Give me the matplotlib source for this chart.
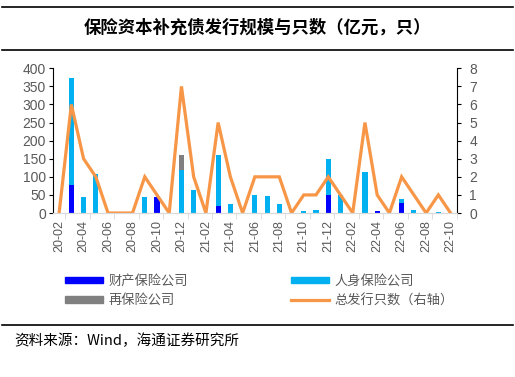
import matplotlib
matplotlib.use("Agg")
import matplotlib.pyplot as plt
import numpy as np
from matplotlib.lines import Line2D
from matplotlib.patches import Patch

CJK = ["Noto Sans CJK SC", "DejaVu Sans"]
NUM = ["Liberation Sans", "DejaVu Sans"]

months = [
    "20-02", "20-03", "20-04", "20-05", "20-06", "20-07", "20-08", "20-09",
    "20-10", "20-11", "20-12", "21-01", "21-02", "21-03", "21-04", "21-05",
    "21-06", "21-07", "21-08", "21-09", "21-10", "21-11", "21-12", "22-01",
    "22-02", "22-03", "22-04", "22-05", "22-06", "22-07", "22-08", "22-09",
    "22-10",
]
# 亿元
property_ins = [0, 78, 0, 0, 0, 0, 0, 0, 43, 0, 0, 0, 0, 19, 0, 0,
                0, 0, 0, 0, 0, 0, 49, 0, 0, 0, 5, 0, 29, 0, 0, 0, 0]
life_ins = [0, 294, 44, 109, 0, 0, 0, 43, 0, 0, 118, 63, 0, 140, 24, 0,
            49, 46, 24, 0, 5, 9, 99, 49, 0, 114, 0, 0, 11, 9, 0, 2, 0]
reins = [0, 0, 0, 0, 0, 0, 0, 0, 0, 0, 42, 0, 0, 0, 0, 0,
         0, 0, 0, 0, 0, 0, 0, 0, 0, 0, 0, 0, 0, 0, 0, 0, 0]
# 只
issue_count = [0, 6, 3, 2, 0, 0, 0, 2, 1, 0, 7, 2, 0, 5, 2, 0,
               2, 2, 2, 0, 1, 1, 2, 1, 0, 5, 1, 0, 2, 1, 0, 1, 0]

c_prop = "#0000ff"
c_life = "#00b0f0"
c_re = "#808080"
c_line = "#f79646"
c_tick = "#595959"

fig = plt.figure(figsize=(5.15, 3.77), dpi=100)
ax = fig.add_axes([0.1029, 0.435, 0.7839, 0.3838])
ax2 = ax.twinx()

x = np.arange(len(months))
w = 0.42
prop = np.array(property_ins)
life = np.array(life_ins)
ax.bar(x, prop, w, color=c_prop, zorder=2)
ax.bar(x, life, w, bottom=prop, color=c_life, zorder=2)
ax.bar(x, reins, w, bottom=prop + life, color=c_re, zorder=2)
ax2.plot(x, issue_count, color=c_line, lw=2.3, solid_joinstyle="miter")

ax.set_xlim(-0.5, len(months) - 0.5)
ax.set_ylim(0, 400)
ax.set_yticks(range(0, 401, 50))
ax2.set_ylim(0, 8)
ax2.set_yticks(range(0, 9))

ax.set_xticks(x[::2])
ax.set_xticklabels(months[::2], rotation=90, family=NUM, fontsize=9, color=c_tick)
ax.set_xticks(np.arange(0.5, len(months), 2), minor=True)
ax.tick_params(axis="x", which="major", length=0, pad=5)
ax.tick_params(axis="x", which="minor", length=4, color="#d9d9d9")

for a in (ax, ax2):
    a.spines["top"].set_visible(False)
    a.spines["bottom"].set_color("#d9d9d9")
    for lab in a.get_yticklabels():
        lab.set_family(NUM)
        lab.set_fontsize(10)
        lab.set_color(c_tick)
ax.spines["right"].set_visible(False)
ax2.spines["left"].set_visible(False)
ax.spines["left"].set_color("#000000")
ax2.spines["right"].set_color("#000000")
ax.tick_params(axis="y", length=3, pad=2)
ax2.tick_params(axis="y", length=3, pad=6)

handles = [
    Patch(color=c_prop), Patch(color=c_re),
    Patch(color=c_life), Line2D([], [], color=c_line, lw=2.3),
]
labels = ["财产保险公司", "再保险公司", "人身保险公司", "总发行只数（右轴）"]
leg = fig.legend(handles, labels, ncol=2, loc="upper left",
                 bbox_to_anchor=(0.103, 0.303), frameon=False,
                 prop={"family": CJK, "size": 9.5},
                 handlelength=2.9, handleheight=0.4, handletextpad=0.4,
                 columnspacing=7.8, labelspacing=0.5)
for t in leg.get_texts():
    t.set_color(c_tick)

for yy in (1 - 7 / 377, 1 - 50 / 377, 1 - 325 / 377):
    fig.add_artist(Line2D([0.004, 0.996], [yy, yy], color="black", lw=1.2,
                          transform=fig.transFigure))

fig.text(0.5, 1 - 28 / 377, "保险资本补充债发行规模与只数（亿元，只）",
         ha="center", va="center", family=CJK, fontsize=12.5, fontweight="bold")
fig.text(14 / 515, 1 - 341 / 377, "资料来源：Wind，海通证券研究所",
         ha="left", va="center", family=CJK, fontsize=10.5)

fig.savefig("out.png", dpi=100)
